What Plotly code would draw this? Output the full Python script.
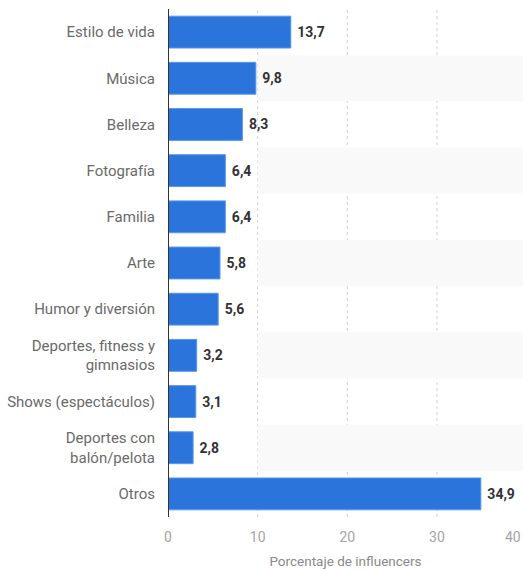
import plotly.graph_objects as go

categories = [
    "Estilo de vida", "Música", "Belleza", "Fotografía", "Familia", "Arte",
    "Humor y diversión", "Deportes, fitness y<br>gimnasios",
    "Shows (espectáculos)", "Deportes con<br>balón/pelota", "Otros",
]
values = [13.7, 9.8, 8.3, 6.4, 6.4, 5.8, 5.6, 3.2, 3.1, 2.8, 34.9]
x_ticks = [0, 10, 20, 30, 40]
x_max = 39.6

fig = go.Figure()
fig.add_trace(go.Bar(
    y=categories, x=values, orientation="h",
    marker=dict(color="#2a74db", line=dict(color="#5a98ea", width=1)),
    width=0.69,
    text=[f"{v:.1f}".replace(".", ",") for v in values],
    textposition="outside",
    textfont=dict(family="Roboto, Arial, sans-serif", size=14, color="#333333"),
    texttemplate="<b> %{text}</b>",
    cliponaxis=False,
    hoverinfo="skip",
))

shapes = []
for i, c in enumerate(categories):
    if i % 2 == 1:
        shapes.append(dict(type="rect", xref="x", yref="y", x0=10, x1=x_max,
                           y0=i - 0.5, y1=i + 0.5, fillcolor="#f9f9f9",
                           line=dict(width=0), layer="below"))
for t in x_ticks[1:]:
    if t < x_max:
        shapes.append(dict(type="line", xref="x", yref="paper", x0=t, x1=t, y0=0, y1=1,
                           line=dict(color="#d2d2d2", width=1, dash="dot"), layer="below"))
shapes.append(dict(type="line", xref="x", yref="paper", x0=0, x1=0, y0=0, y1=1,
                   line=dict(color="#333333", width=2)))

annotations = [dict(text=str(x_ticks[-1]), xref="paper", yref="paper",
                    x=1, y=0, yanchor="top", xanchor="right",
                    yshift=-10, showarrow=False,
                    font=dict(family="Roboto, Arial, sans-serif", size=14, color="#a5a5a5"))]

fig.update_layout(
    width=523, height=571,
    margin=dict(l=168, r=0, t=9, b=54),
    plot_bgcolor="white", paper_bgcolor="white",
    separators=",.",
    showlegend=False,
    shapes=shapes,
    annotations=annotations,
    font=dict(family="Roboto, Arial, sans-serif"),
    xaxis=dict(range=[0, x_max], tickvals=x_ticks[:-1], showgrid=False, zeroline=False,
               showline=False, tickfont=dict(size=14, color="#a5a5a5"), ticks="",
               ticklabelstandoff=10, automargin=False,
               title=dict(text="Porcentaje de influencers", standoff=12,
                          font=dict(size=13.5, color="#8a8a8a"))),
    yaxis=dict(autorange="reversed", showgrid=False, zeroline=False, showline=False,
               ticks="", ticklabelstandoff=12,
               tickfont=dict(size=15, color="#6a6a6a")),
)

fig.write_html("out.html")
